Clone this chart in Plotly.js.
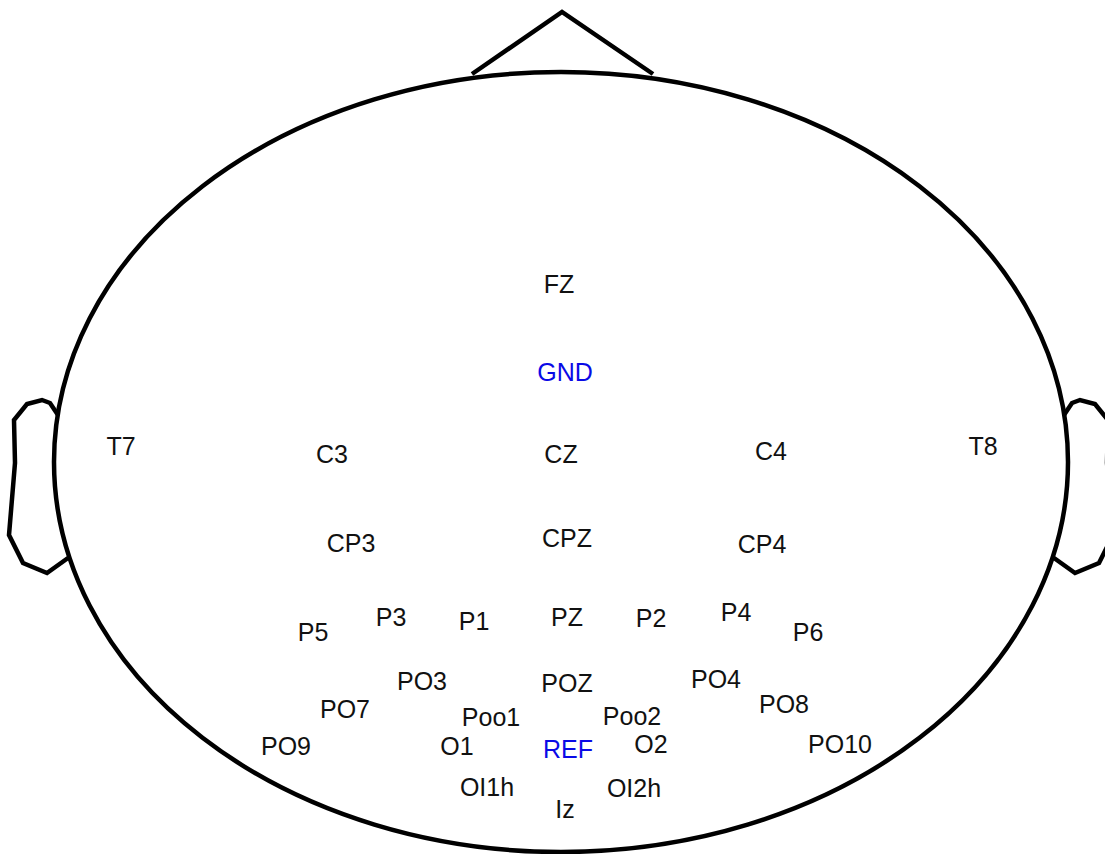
<!DOCTYPE html>
<html>
<head>
<meta charset="utf-8">
<script src="https://cdn.plot.ly/plotly-3.0.1.min.js"></script>
<style>html,body{margin:0;padding:0;background:#fff;}#chart{width:1105px;height:854px;}</style>
</head>
<body>
<div id="chart"></div>
<script>
// Electrode labels and their positions on the head map
const electrodes = ["FZ","T7","C3","CZ","C4","T8","CP3","CPZ","CP4",
  "P5","P3","P1","PZ","P2","P4","P6",
  "PO3","POZ","PO4","PO7","Poo1","Poo2","PO8",
  "PO9","O1","O2","PO10","OI1h","OI2h","Iz"];
const electrodeX = [559,121,332,561,771,983,351,567,762,
  313,391,474,567,651,736,808,
  422,567,716,345,491,632,784,
  286,457,651,840,487,634,565];
const electrodeY = [287,449,457,457,454,449,546,541,547,
  635,620,624,620,621,615,635,
  684,686,682,712,720,719,707,
  749,749,747,747,790,791,812];

// Special electrodes (ground & reference)
const specialLabels = ["GND","REF"];
const specialX = [565,568];
const specialY = [375,752];

// Head outline geometry
const headBox = {x0: 54, x1: 1068, y0: 72, y1: 852};
const noseX = [472,562,653];
const noseY = [74,12,74];
const leftEarX = [58,50,42,27,14,15,9,23,47,68];
const leftEarY = [415,403,400,404,420,463,535,563,573,558];
const rightEarX = [1064,1072,1080,1095,1108,1107,1113,1099,1075,1054];
const rightEarY = [415,403,400,404,420,463,535,563,573,558];

const lineStyle = {color:'#000', width:4.5};
const fontFam = 'Liberation Sans, Arial, sans-serif';

const traces = [
  {x:noseX, y:noseY, mode:'lines', line:lineStyle, hoverinfo:'skip', showlegend:false},
  {x:leftEarX, y:leftEarY, mode:'lines', line:lineStyle, hoverinfo:'skip', showlegend:false},
  {x:rightEarX, y:rightEarY, mode:'lines', line:lineStyle, hoverinfo:'skip', showlegend:false},
  {x:electrodeX, y:electrodeY, text:electrodes, mode:'text', textposition:'middle center',
   textfont:{family:fontFam, size:25, color:'#111'}, hoverinfo:'text', showlegend:false},
  {x:specialX, y:specialY, text:specialLabels, mode:'text', textposition:'middle center',
   textfont:{family:fontFam, size:25, color:'#0a0ae6'}, hoverinfo:'text', showlegend:false}
];

const layout = {
  width:1105, height:854,
  margin:{l:0,r:0,t:0,b:0},
  paper_bgcolor:'#fff', plot_bgcolor:'#fff',
  xaxis:{range:[0,1105], visible:false, fixedrange:true},
  yaxis:{range:[854,0], visible:false, fixedrange:true},
  shapes:[{type:'circle', xref:'x', yref:'y',
    x0:headBox.x0, x1:headBox.x1, y0:headBox.y0, y1:headBox.y1,
    line:{color:'#000', width:4.5}, fillcolor:'rgba(0,0,0,0)', layer:'below'}],
  showlegend:false
};

Plotly.newPlot('chart', traces, layout, {displayModeBar:false, staticPlot:true});
</script>
</body>
</html>
